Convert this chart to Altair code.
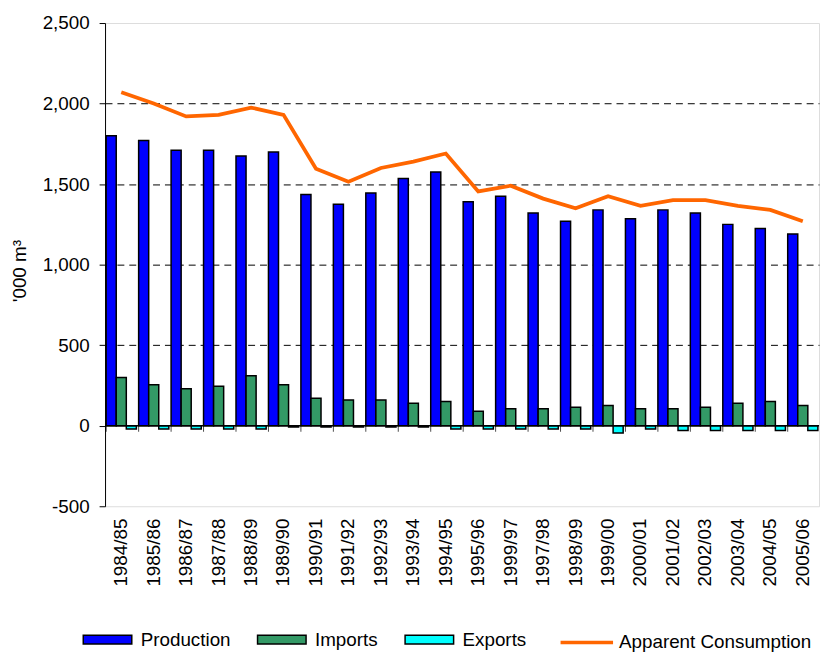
import altair as alt
import pandas as pd

years = ["1984/85", "1985/86", "1986/87", "1987/88", "1988/89", "1989/90", "1990/91",
         "1991/92", "1992/93", "1993/94", "1994/95", "1995/96", "1999/97", "1997/98",
         "1998/99", "1999/00", "2000/01", "2001/02", "2002/03", "2003/04", "2004/05", "2005/06"]
production = [1800, 1770, 1710, 1710, 1675, 1700, 1435, 1375, 1445, 1535, 1575,
              1390, 1425, 1320, 1270, 1340, 1285, 1340, 1320, 1250, 1225, 1190]
imports = [300, 255, 230, 245, 310, 255, 170, 160, 160, 140, 150,
           90, 105, 105, 115, 125, 105, 105, 115, 140, 150, 125]
exports = [-20, -20, -20, -20, -20, -8, -8, -8, -8, -8, -20,
           -20, -20, -20, -20, -45, -20, -30, -30, -30, -30, -30]
consumption = [2070, 2000, 1920, 1930, 1975, 1930, 1595, 1515, 1600, 1640, 1690,
               1455, 1490, 1410, 1350, 1425, 1365, 1400, 1400, 1365, 1340, 1270]

bar_series = ["Production", "Imports", "Exports"]
bar_colors = ["#0000FF", "#339966", "#00FFFF"]
line_series = "Apparent Consumption"
line_color = "#FF6600"
y_ticks = [-500, 0, 500, 1000, 1500, 2000, 2500]

FONT = "Liberation Sans"

rows = []
for i, y in enumerate(years):
    for s, vals in zip(bar_series, [production, imports, exports]):
        rows.append({"year": y, "series": s, "value": vals[i]})
bars_df = pd.DataFrame(rows)
line_df = pd.DataFrame({"year": years, "series": line_series, "value": consumption})
zero_df = pd.DataFrame({"v": [0]})

x_axis = alt.Axis(title=None, labelAngle=-90, labelFont=FONT, labelFontSize=19,
                  labelColor="black", labelPadding=12, domain=False, ticks=False,
                  grid=False)
x_scale = alt.Scale(paddingInner=0.07, paddingOuter=0.035)

y_axis = alt.Axis(
    title="'000 m³", titleFont=FONT, titleFontSize=19, titleFontWeight="normal",
    titleColor="black", titleAngle=-90, titleX=-86, titleY=250,
    titleAlign="center", titleBaseline="middle",
    values=y_ticks, labelExpr="replace(format(datum.value, ','), '\u2212', '-')",
    labelFont=FONT, labelFontSize=19, labelColor="black", labelPadding=10,
    domainColor="black", domainWidth=1, tickColor="black", tickSize=6,
    gridColor="black", gridDash=[7, 5], gridWidth=1,
    gridOpacity={"condition": {"test": "datum.value <= 0 || datum.value >= 2500", "value": 0}, "value": 1},
)
y_scale = alt.Scale(domain=[-500, 2500], nice=False)

bars = alt.Chart(bars_df).mark_bar(stroke="black", strokeWidth=1.5).encode(
    x=alt.X("year:N", sort=years, axis=x_axis, scale=x_scale),
    xOffset=alt.XOffset("series:N", sort=bar_series, scale=alt.Scale(paddingInner=0, paddingOuter=0)),
    y=alt.Y("value:Q", scale=y_scale, axis=y_axis),
    fill=alt.Fill("series:N", scale=alt.Scale(domain=bar_series, range=bar_colors),
                  legend=alt.Legend(orient="none", legendX=-23, legendY=597, direction="horizontal",
                                    title=None, symbolType="M-1,-0.18L1,-0.18L1,0.18L-1,0.18Z",
                                    symbolSize=2401, symbolStrokeColor="black", symbolStrokeWidth=1.5,
                                    symbolOpacity=1, labelLimit=400,
                                    labelFont=FONT, labelFontSize=19, labelColor="black",
                                    labelOffset=8, columnPadding=24, padding=0)),
)

zero_rule = alt.Chart(zero_df).mark_rule(color="black", strokeWidth=1.5).encode(
    y=alt.Y("v:Q", scale=y_scale, axis=y_axis)
)

ticks = alt.Chart(line_df).mark_tick(orient="vertical", size=6, thickness=1, color="black").encode(
    x=alt.X("year:N", sort=years, axis=x_axis, scale=x_scale, bandPosition=0),
    y=alt.datum(0),
    yOffset=alt.value(3),
)

line = alt.Chart(line_df).mark_line(strokeWidth=3.8).encode(
    x=alt.X("year:N", sort=years, axis=x_axis, scale=x_scale),
    y=alt.Y("value:Q", scale=y_scale, axis=y_axis),
    stroke=alt.Stroke("series:N", scale=alt.Scale(domain=[line_series], range=[line_color]),
                      legend=alt.Legend(orient="none", legendX=458, legendY=597, direction="horizontal",
                                        title=None, symbolType="stroke", symbolSize=2809,
                                        symbolStrokeWidth=3.5, labelFont=FONT, labelFontSize=19,
                                        labelColor="black", labelOffset=4, padding=0,
                                        labelLimit=400)),
)

chart = alt.layer(bars, zero_rule, ticks, line).properties(
    width=721, height=488,
    autosize=alt.AutoSizeParams(type="none"),
    padding={"left": 98, "top": 12, "right": 2, "bottom": 145},
).configure_view(stroke="#999999", strokeWidth=1.5).configure(background="white")

chart.save("out.html", embed_options={"renderer": "svg", "actions": False})
